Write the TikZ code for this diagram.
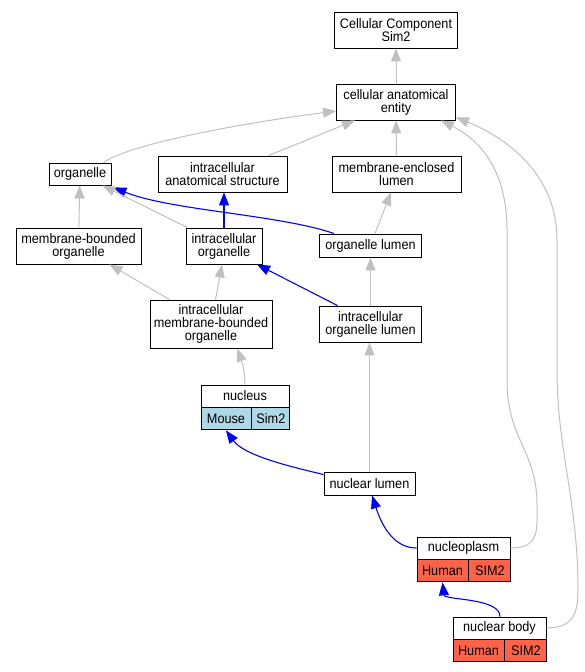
\documentclass[tikz,border=0pt]{standalone}
\usepackage{fontspec}
\setmainfont{Liberation Sans}[FakeStretch=0.92]
\usetikzlibrary{arrows.meta}
\definecolor{edgegray}{HTML}{C0C0C0}
\definecolor{mousecol}{HTML}{ADD8E6}
\definecolor{humancol}{HTML}{FF6347}
\begin{document}
\begin{tikzpicture}[x=1pt, y=-1pt,
    box/.style={draw=black, line width=0.9pt, fill=white, inner sep=0pt, align=center,
        font=\fontsize{13.8}{13}\selectfont},
    cell/.style={box, anchor=north west, minimum height=22},
    gedge/.style={draw=edgegray, line width=1pt, -{Triangle[length=13pt,width=10pt]}},
    bedge/.style={draw=blue, line width=1.1pt, -{Triangle[length=13pt,width=10pt]}}]
            \useasboundingbox (0,0) rectangle (584,672);
            \node [box, minimum width=123, minimum height=36] (cc) at (396,30) {Cellular Component\\Sim2};
            \node [box, minimum width=119, minimum height=36] (cae) at (396,102) {cellular anatomical\\entity};
            \node [box, minimum width=62, minimum height=22] (org) at (80,174) {organelle};
            \node [box, minimum width=129, minimum height=36] (ias) at (222.5,174) {intracellular\\anatomical structure};
            \node [box, minimum width=129, minimum height=36] (mel) at (396.5,174) {membrane-enclosed\\lumen};
            \node [box, minimum width=125, minimum height=36] (mbo) at (78.5,246) {membrane-bounded\\organelle};
            \node [box, minimum width=76, minimum height=36] (io) at (224,246) {intracellular\\organelle};
            \node [box, minimum width=102, minimum height=23] (ol) at (370.5,245.5) {organelle lumen};
            \node [box, minimum width=122, minimum height=48] (imbo) at (211,324) {intracellular\\membrane-bounded\\organelle};
            \node [box, minimum width=102, minimum height=36] (iol) at (370.5,324) {intracellular\\organelle lumen};
            \node [box, minimum width=88, minimum height=22] (nucleus) at (245,396) {nucleus};
            \node [cell, fill=mousecol, minimum width=50] (nucleusA) at (nucleus.south west) {Mouse};
            \node [cell, fill=mousecol, minimum width=38] (nucleusB) at (nucleusA.north east) {Sim2};
            \node [box, minimum width=91, minimum height=23] (nl) at (369.5,483.5) {nuclear lumen};
            \node [box, minimum width=93, minimum height=22] (np) at (463.5,548) {nucleoplasm};
            \node [cell, fill=humancol, minimum width=51] (npA) at (np.south west) {Human};
            \node [cell, fill=humancol, minimum width=42] (npB) at (npA.north east) {SIM2};
            \node [box, minimum width=93, minimum height=22] (nb) at (499.5,628) {nuclear body};
            \node [cell, fill=humancol, minimum width=51] (nbA) at (nb.south west) {Human};
            \node [cell, fill=humancol, minimum width=42] (nbB) at (nbA.north east) {SIM2};
            \draw [gedge] (cae) -- (cc);
            \draw [gedge] ([xshift=-8pt]org.north east) .. controls +(25,-18) and +(-100,13) .. ([yshift=-9pt]cae.west);
            \draw [gedge] ([xshift=-19pt]ias.north east) -- ([xshift=-41pt]cae.south);
            \draw [gedge] (mel) -- (cae);
            \draw [gedge] (np.east) .. controls (540,548) and (537,530) .. (537,505) .. controls (537,450) and (507,440) .. (507,380) -- (507,230) .. controls (507,160) and (470,135) .. ([xshift=-15pt]cae.south east);
            \draw [gedge] (nb.east) .. controls (572,628) and (578,615) .. (578,590) .. controls (578,500) and (557,450) .. (557,370) -- (557,240) .. controls (557,170) and (500,135) .. ([yshift=3pt]cae.south east);
            \draw [bedge] ([xshift=15pt]ol.north west) .. controls +(-55,-19) and +(57,23) .. ([xshift=2pt,yshift=-2pt]org.south east);
            \draw [gedge] (mbo) -- (org);
            \draw [gedge] ([xshift=2pt]io.north west) -- ([xshift=-9pt]org.south east);
            \draw [bedge] (io.north) -- (io.north |- ias.south);
            \draw [gedge] ([xshift=4.5pt]ol.north) -- ([xshift=-5.5pt]mel.south);
            \draw [gedge] ([xshift=20pt]imbo.north west) -- ([xshift=-32pt]mbo.south east);
            \draw [gedge] ([xshift=4.5pt]imbo.north) -- ([xshift=-2pt]io.south);
            \draw [bedge] ([xshift=-33pt]iol.north) -- ([xshift=33pt]io.south);
            \draw [gedge] (iol) -- (ol);
            \draw [gedge] (nucleus.north) .. controls +(0,-13) and +(4,12) .. ([xshift=26.5pt]imbo.south);
            \draw [gedge] (nl.north) -- (nl.north |- iol.south);
            \draw [bedge] ([yshift=9pt]nl.west) .. controls +(-34,-8) and +(18,25) .. (nucleusA.south);
            \draw [bedge] (np.west) .. controls +(-17,0) and +(13,40) .. ([xshift=2.5pt]nl.south);
            \draw [bedge] ([xshift=0.5pt]nb.north) .. controls +(0,-19) and +(2,18) .. (npA.south);
        \end{tikzpicture}
\end{document}
